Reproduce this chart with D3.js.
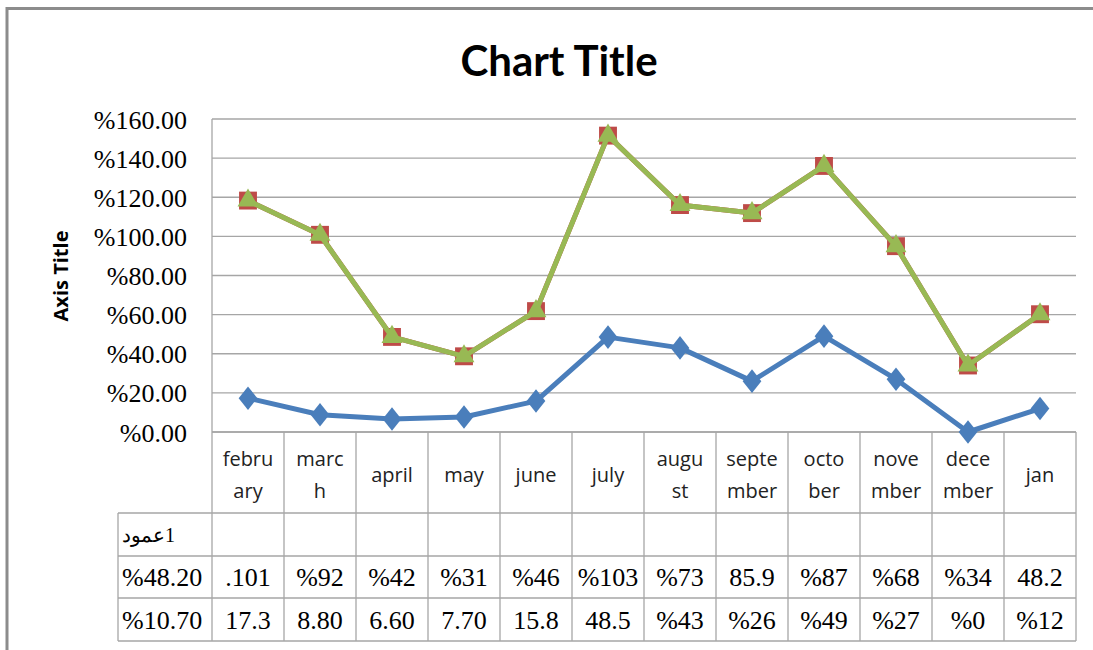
<!DOCTYPE html>
<html><head><meta charset="utf-8">
<script src="https://cdn.jsdelivr.net/npm/d3@7"></script>
<style>html,body{margin:0;padding:0;background:#fff;}</style>
</head><body>
<svg id="c" width="1093" height="650"></svg>
<script>
const categories = [["febru","ary"],["marc","h"],["april"],["may"],["june"],["july"],["augu","st"],["septe","mber"],["octo","ber"],["nove","mber"],["dece","mber"],["jan"]];
const seriesNames = ["%10.70","%48.20","عمود\u200E1"];
const series1 = [17.3, 8.8, 6.6, 7.7, 15.8, 48.5, 43, 26, 49, 27, 0, 12];
const series2 = [101, 92, 42, 31, 46, 103, 73, 85.9, 87, 68, 34, 48.2];
const series3 = [0,0,0,0,0,0,0,0,0,0,0,0];
const series1Text = ["17.3","8.80","6.60","7.70","15.8","48.5","%43","%26","%49","%27","%0","%12"];
const series2Text = [".101","%92","%42","%31","%46","%103","%73","85.9","%87","%68","%34","48.2"];
const series3Text = ["","","","","","","","","","","",""];
const yTicks = [0,20,40,60,80,100,120,140,160];
const yTickLabels = ["%0.00","%20.00","%40.00","%60.00","%80.00","%100.00","%120.00","%140.00","%160.00"];

const svg = d3.select("#c");
const L = 212, R = 1076, T = 119, B = 432;
const x = d3.scaleBand().domain(d3.range(12)).range([L, R]);
const y = d3.scaleLinear().domain([0,160]).range([B, T]);

// outer border
svg.append("path").attr("d","M7,650 L7,8.5 L1093,8.5").attr("fill","none").attr("stroke","#8c8c8c").attr("stroke-width",3);

// title
svg.append("text").attr("x",559).attr("y",76).attr("text-anchor","middle")
  .attr("font-family","Lato, 'Open Sans', sans-serif").attr("font-weight","bold").attr("font-size",42).text("Chart Title");
// axis title
svg.append("text").attr("transform","translate(68,276) rotate(-90)").attr("text-anchor","middle")
  .attr("font-family","'Open Sans', sans-serif").attr("font-weight","bold").attr("font-size",20).text("Axis Title");

// gridlines
const gridColor = "#a6a6a6";
svg.append("g").selectAll("line").data(yTicks).join("line")
  .attr("x1",L).attr("x2",R).attr("y1",d=>y(d)).attr("y2",d=>y(d))
  .attr("stroke",gridColor).attr("stroke-width",1.3);
const yAxis = d3.axisLeft(y).tickValues(yTicks).tickFormat((d,i)=>yTickLabels[i]).tickSize(0).tickPadding(25);
const yg = svg.append("g").attr("transform",`translate(${L},0)`).call(yAxis);
yg.select(".domain").remove();
yg.selectAll("text").attr("font-family","'Liberation Serif', 'Times New Roman', serif").attr("font-size",26).attr("fill","#000").attr("dy","0.35em");

// table
const rowTops = [B, 513, 556, 598, 641];
const tbl = svg.append("g").attr("stroke",gridColor).attr("stroke-width",1.3);
const colEdges = d3.range(13).map(i => i < 12 ? x(i) : R);
tbl.selectAll("line.v").data(colEdges).join("line").attr("class","v")
  .attr("x1",d=>d).attr("x2",d=>d).attr("y1",(d,i)=> i===0 ? T : B).attr("y2",rowTops[4]);
tbl.selectAll("line.h").data(rowTops).join("line").attr("class","h")
  .attr("x1",(d,i)=> i===0 ? L : 118).attr("x2",R).attr("y1",d=>d).attr("y2",d=>d);
tbl.append("line").attr("x1",118).attr("x2",118).attr("y1",rowTops[1]).attr("y2",rowTops[4]);

// category labels
const catG = svg.append("g").attr("font-family","'Open Sans', sans-serif").attr("font-size",20).attr("fill","#222").attr("text-anchor","middle");
categories.forEach((c,i)=>{
  const cx = x(i) + x.bandwidth()/2;
  if (c.length === 2) {
    catG.append("text").attr("x",cx).attr("y",466).text(c[0]);
    catG.append("text").attr("x",cx).attr("y",498).text(c[1]);
  } else {
    catG.append("text").attr("x",cx).attr("y",482).text(c[0]);
  }
});

// data rows
const rowTexts = [series3Text, series2Text, series1Text];
const rowNames = [seriesNames[2], seriesNames[1], seriesNames[0]];
const valG = svg.append("g").attr("font-family","'Liberation Serif', 'Times New Roman', serif").attr("font-size",26).attr("fill","#000");
rowTexts.forEach((arr,r)=>{
  const cy = (rowTops[r+1]+rowTops[r+2])/2 + 9;
  valG.append("text").attr("x",122).attr("y",r===0 ? cy-2 : cy).attr("text-anchor","start")
    .attr("font-size", r===0 ? 20 : 26).text(rowNames[r]);
  arr.forEach((t,i)=>{
    valG.append("text").attr("x",x(i)+x.bandwidth()/2).attr("y",cy).attr("text-anchor","middle").text(t);
  });
});

// stacked series
const stackData = d3.range(12).map(i => ({s1:series1[i], s2:series2[i], s3:series3[i]}));
const stacked = d3.stack().keys(["s1","s2","s3"])(stackData);
const colors = ["#4a7ebb","#be4b48","#98b954"];
const cx = i => x(i) + x.bandwidth()/2;
const line = d3.line().x((d,i)=>cx(i)).y(d=>y(d[1]));
const markers = [d3.symbolDiamond, d3.symbolSquare, d3.symbolTriangle];
const sizes = [250, 320, 190];
stacked.forEach((s,k)=>{
  svg.append("path").datum(s).attr("d",line).attr("fill","none").attr("stroke",colors[k]).attr("stroke-width",5).attr("stroke-linejoin","round");
  svg.append("g").selectAll("path").data(s).join("path")
    .attr("transform",(d,i)=>`translate(${cx(i)},${y(d[1])})${k===0?" scale(1.1,0.8)":""}`)
    .attr("d", d3.symbol().type(markers[k]).size(sizes[k]))
    .attr("fill",colors[k]);
});
</script>
</body></html>
